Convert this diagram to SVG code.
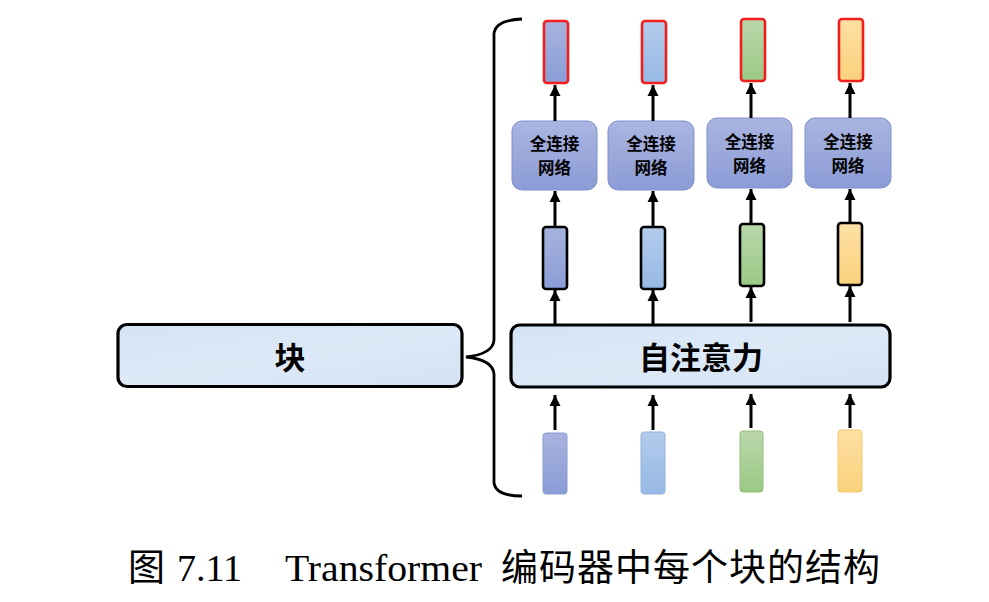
<svg xmlns="http://www.w3.org/2000/svg" width="989" height="602" viewBox="0 0 989 602">
<style>
.big{fill:url(#tex);stroke:#000;stroke-width:3.2}
.fc{fill:url(#gfc);stroke:#7f8fc9;stroke-width:1}
.lbl{font-family:"Noto Sans CJK SC",sans-serif;font-weight:700;fill:#000;text-anchor:middle}
.arr{stroke:#000;stroke-width:3;fill:none;marker-end:url(#ah)}
.mid{stroke:#000;stroke-width:2.6}
.top{stroke:#f21e1e;stroke-width:2.6}
.cap{font-family:"Liberation Serif","Noto Sans CJK SC",serif;font-size:38px;fill:#000}
.capz{font-family:"Noto Sans CJK SC",serif;font-size:37px;fill:#000}
</style>
<defs>
<linearGradient id="gP" x1="0" y1="0" x2="0" y2="1"><stop offset="0" stop-color="#a8b3de"/><stop offset="1" stop-color="#8a9dd6"/></linearGradient>
<linearGradient id="gB" x1="0" y1="0" x2="0" y2="1"><stop offset="0" stop-color="#b3cbeb"/><stop offset="1" stop-color="#96b9e5"/></linearGradient>
<linearGradient id="gG" x1="0" y1="0" x2="0" y2="1"><stop offset="0" stop-color="#b9d7aa"/><stop offset="1" stop-color="#9bc985"/></linearGradient>
<linearGradient id="gY" x1="0" y1="0" x2="0" y2="1"><stop offset="0" stop-color="#fde0a3"/><stop offset="1" stop-color="#fbd27c"/></linearGradient>
<linearGradient id="gfc" x1="0" y1="0" x2="0" y2="1"><stop offset="0" stop-color="#aab6e1"/><stop offset="1" stop-color="#8b9bd5"/></linearGradient>
<linearGradient id="tex" x1="0" y1="0" x2="1" y2="1"><stop offset="0" stop-color="#d4e3f4"/><stop offset="0.5" stop-color="#dde9f7"/><stop offset="1" stop-color="#d3e2f3"/></linearGradient>
<marker id="ah" markerWidth="12" markerHeight="12" viewBox="0 0 12 12" refX="11" refY="6" orient="auto" markerUnits="userSpaceOnUse"><path d="M0,0.5 L11,6 L0,11.5 Z" fill="#000"/></marker>
</defs>

<g id="block">
<rect class="big" x="118" y="324.5" width="344" height="62" rx="9"/>
<text class="lbl" x="290" y="369" font-size="31">块</text>
</g>

<g id="brace">
<path d="M522,19 Q496,20 494,33 L494,340 Q493,354 466,357 Q493,360 494,374 L494,483 Q496,496 522,496" fill="none" stroke="#000" stroke-width="2.8"/>
</g>

<g id="self-attention">
<rect class="big" x="511" y="325" width="379" height="62" rx="9"/>
<text class="lbl" x="701" y="369" font-size="31">自注意力</text>
</g>

<g id="inputs">
<rect id="in1" x="543" y="433" width="24" height="61" rx="3" fill="url(#gP)" stroke="#8a9ad0" stroke-width="1"/>
<rect id="in2" x="641" y="432" width="24" height="62" rx="3" fill="url(#gB)" stroke="#93b3e0" stroke-width="1"/>
<rect id="in3" x="740" y="431" width="23" height="61" rx="3" fill="url(#gG)" stroke="#92c07e" stroke-width="1"/>
<rect id="in4" x="838" y="430" width="24" height="62" rx="3" fill="url(#gY)" stroke="#f2c96c" stroke-width="1"/>
</g>

<g id="hidden">
<rect id="h1" class="mid" x="543" y="227" width="24" height="62" rx="3" fill="url(#gP)"/>
<rect id="h2" class="mid" x="641" y="227" width="24" height="62" rx="3" fill="url(#gB)"/>
<rect id="h3" class="mid" x="740" y="224" width="24" height="62" rx="3" fill="url(#gG)"/>
<rect id="h4" class="mid" x="838" y="223" width="24" height="62" rx="3" fill="url(#gY)"/>
</g>

<g id="fc1"><rect class="fc" x="512" y="121" width="85" height="69" rx="10"/><text class="lbl" font-size="16.5"><tspan x="554.5" y="150">全连接</tspan><tspan x="554.5" y="174">网络</tspan></text></g>
<g id="fc2"><rect class="fc" x="608" y="121" width="86" height="69" rx="10"/><text class="lbl" font-size="16.5"><tspan x="651" y="150">全连接</tspan><tspan x="651" y="174">网络</tspan></text></g>
<g id="fc3"><rect class="fc" x="707" y="118" width="85" height="70" rx="10"/><text class="lbl" font-size="16.5"><tspan x="749.5" y="148">全连接</tspan><tspan x="749.5" y="172">网络</tspan></text></g>
<g id="fc4"><rect class="fc" x="805" y="118" width="86" height="70" rx="10"/><text class="lbl" font-size="16.5"><tspan x="848" y="148">全连接</tspan><tspan x="848" y="172">网络</tspan></text></g>

<g id="outputs">
<rect id="o1" class="top" x="544" y="21" width="24" height="62" rx="3" fill="url(#gP)"/>
<rect id="o2" class="top" x="642" y="21" width="24" height="62" rx="3" fill="url(#gB)"/>
<rect id="o3" class="top" x="741" y="19" width="24" height="62" rx="3" fill="url(#gG)"/>
<rect id="o4" class="top" x="839" y="19" width="24" height="62" rx="3" fill="url(#gY)"/>
</g>

<g id="connectors">
<line class="arr" x1="555" y1="430" x2="555" y2="395"/>
<line class="arr" x1="653" y1="430" x2="653" y2="395"/>
<line class="arr" x1="751" y1="428" x2="751" y2="394"/>
<line class="arr" x1="850" y1="428" x2="850" y2="394"/>
<line class="arr" x1="555" y1="325" x2="555" y2="290"/>
<line class="arr" x1="653" y1="325" x2="653" y2="290"/>
<line class="arr" x1="751" y1="322" x2="751" y2="287"/>
<line class="arr" x1="850" y1="322" x2="850" y2="286"/>
<line class="arr" x1="555" y1="227" x2="555" y2="191"/>
<line class="arr" x1="653" y1="227" x2="653" y2="191"/>
<line class="arr" x1="751" y1="224" x2="751" y2="189"/>
<line class="arr" x1="850" y1="223" x2="850" y2="189"/>
<line class="arr" x1="555" y1="121" x2="555" y2="85"/>
<line class="arr" x1="653" y1="121" x2="653" y2="85"/>
<line class="arr" x1="751" y1="118" x2="751" y2="83"/>
<line class="arr" x1="850" y1="118" x2="850" y2="83"/>
</g>

<g id="caption">
<text class="capz" x="128" y="581">图</text>
<text class="cap" x="177" y="581">7.11</text>
<text class="cap" x="285" y="581" textLength="197" lengthAdjust="spacingAndGlyphs">Transformer</text>
<text class="capz" x="501" y="581" textLength="379" lengthAdjust="spacing">编码器中每个块的结构</text>
</g>
</svg>
